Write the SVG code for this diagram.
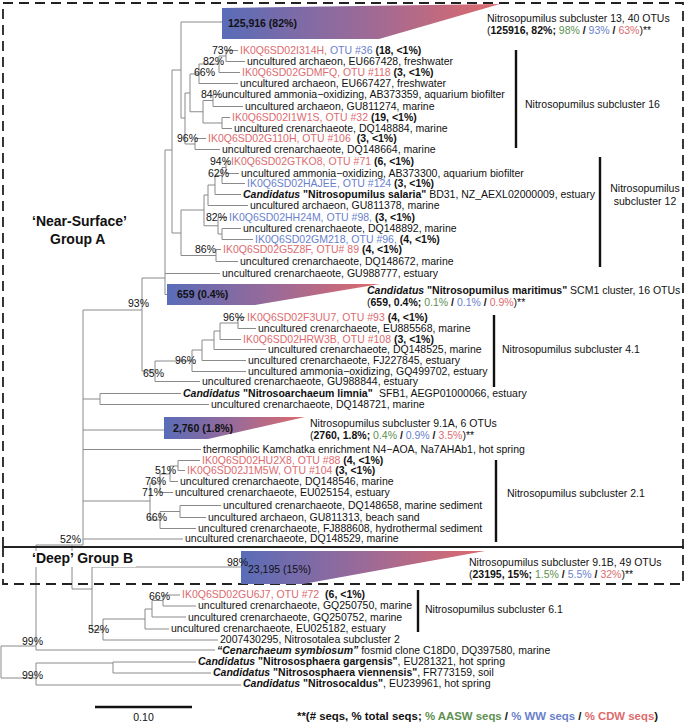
<svg xmlns="http://www.w3.org/2000/svg" width="685" height="726" viewBox="0 0 685 726">
<style>
text{font-family:"Liberation Sans",Arial,sans-serif;font-size:10.5px;fill:#111}
.b{font-weight:bold}
.bi{font-weight:bold;font-style:italic}
.r{fill:#dc6b6f}
.bl{fill:#6a7fcc}
.g{fill:#5e8f4f}
.grp{font-size:14px;font-weight:bold}
.br{fill:none;stroke:#8a8a8a;stroke-width:1}
.bar{stroke:#111;stroke-width:2.4}
.box{fill:none;stroke:#222;stroke-width:1.8;stroke-dasharray:10 6}
.foot{font-size:11.4px;font-weight:bold}
</style>
<defs>
<linearGradient id="grad" x1="0" y1="0" x2="1" y2="0">
<stop offset="0" stop-color="#5a6cb8"/>
<stop offset="0.5" stop-color="#9a6a98"/>
<stop offset="1" stop-color="#de6a6c"/>
</linearGradient>
</defs>
<rect width="685" height="726" fill="#fff"/>

<g id="connectors">
<path class="br" d="M181,22V118 M181,22H222 M181,118H185 M185,93V144 M185,93H190 M185,144H195 M190,74V111.75 M190,74H199 M190,111.75H203 M199,64V83.5 M199,64H219 M199,83.5H238 M219,56V72.5 M219,56H226 M219,72.5H240 M226,50.5V61.5 M226,50.5H238 M226,61.5H245 M203,100.5V123 M203,100.5H213 M203,123H222 M213,94.5V106.5 M213,94.5H220 M213,106.5H243 M222,117.5V128.5 M222,117.5H230 M222,128.5H232 M195,138.5V149.5 M195,138.5H206 M195,149.5H220"/>
<path class="br" d="M172,70V233 M172,70H181 M172,233H181 M181,210V255.5 M181,210H204 M181,255.5H216 M204,195V225.75 M204,195H208 M204,225.75H218 M208,185V205.5 M208,185H215 M208,205.5H248 M215,175.5V194.5 M215,175.5H222 M215,194.5H241 M222,167.5V183.5 M222,167.5H226 M222,183.5H245 M226,161.5V173.5 M226,161.5H229 M226,173.5H239 M218,217.5V234 M218,217.5H227 M218,234H222 M222,228.5V239.5 M222,228.5H241 M222,239.5H253 M216,249.5V261.5 M216,249.5H221 M216,261.5H238 M165,150V294.5 M165,150H172 M165,273.5H220 M165,294.5H167"/>
<path class="br" d="M142,278V371 M142,278H165 M142,371H155 M155,361V381.5 M155,361H192 M155,381.5H200 M192,350V371.5 M192,350H202 M192,371.5H246 M202,340V360.5 M202,340H214 M202,360.5H246 M214,331V349.5 M214,331H220 M214,349.5H266 M220,323V339.5 M220,323H238 M220,339.5H241 M238,317.5V328.5 M238,317.5H245 M238,328.5H256"/>
<path class="br" d="M83,310V545 M83,310H142 M83,399H100 M100,393.5V404.5 M100,393.5H181 M100,404.5H209 M83,430H164 M83,449.5H201 M83,501H150 M83,539H183"/>
<path class="br" d="M150,483V520 M150,483H160 M150,520H160 M160,474V492.5 M160,474H170 M160,492.5H173 M170,466V481.5 M170,466H178 M170,481.5H178 M178,460.5V470.5 M178,460.5H200 M178,470.5H185 M160,511.5V528.5 M160,511.5H180 M160,528.5H196 M180,505.5V517.5 M180,505.5H221 M180,517.5H206"/>
<path class="br" d="M36,545V650 M36,545H83 M36,650H215 M72,545V589 M72,589H92 M92,567V630 M92,567H241 M92,630H103 M103,619V640 M103,619H145 M103,640H218 M145,609V629 M145,609H152 M145,629H169 M152,600.5V617 M152,600.5H163 M152,617H186 M163,595V606 M163,595H180 M163,606H196 M1,646V678 M1,646H36 M1,678H36 M36,663V685 M36,663H113 M36,685H241 M113,662V673 M113,662H196 M113,673H211"/>
</g>

<g id="boxes">
<rect class="box" x="3" y="3" width="680" height="544"/>
<rect class="box" x="3" y="547" width="680" height="37"/>
<text class="grp" x="32" y="226">‘Near-Surface’</text>
<text class="grp" x="50" y="244">Group A</text>
<rect x="30" y="551" width="106" height="16" fill="#fff"/>
<text class="grp" x="32" y="563">‘Deep’ Group B</text>
</g>

<g id="clade-sub13">
<path d="M222,8L500,4L379,39L222,39Z" fill="url(#grad)"/>
<text class="b" x="228" y="27">125,916 (82%)</text>
<text x="487" y="22">Nitrosopumilus subcluster 13, 40 OTUs</text>
<text x="487" y="34">(<tspan class="b">125916, 82%;</tspan> <tspan class="g">98%</tspan><tspan class="b"> / </tspan><tspan class="bl">93%</tspan><tspan class="b"> / </tspan><tspan class="r">63%</tspan>)**</text>
</g>

<g id="leaves-sub16">
<text x="240" y="54"><tspan class="r">IK0Q6SD02I314H, </tspan><tspan class="bl">OTU #36</tspan><tspan class="b"> (18, &lt;1%)</tspan></text>
<text x="247" y="65">uncultured archaeon, EU667428, freshwater</text>
<text x="242" y="76"><tspan class="r">IK0Q6SD02GDMFQ, OTU #118</tspan><tspan class="b"> (3, &lt;1%)</tspan></text>
<text x="240" y="87">uncultured archaeon, EU667427, freshwater</text>
<text x="222" y="98">uncultured ammonia−oxidizing, AB373359, aquarium biofilter</text>
<text x="245" y="110">uncultured archaeon, GU811274, marine</text>
<text x="232" y="121"><tspan class="r">IK0Q6SD02I1W1S, OTU #32</tspan><tspan class="b"> (19, &lt;1%)</tspan></text>
<text x="234" y="132">uncultured crenarchaeote, DQ148884, marine</text>
<text x="208" y="142"><tspan class="r">IK0Q6SD02G110H, OTU #106</tspan><tspan class="b" dx="3"> (3, &lt;1%)</tspan></text>
<text x="222" y="153">uncultured crenarchaeote, DQ148664, marine</text>
</g>

<g id="leaves-sub12">
<text x="231" y="165"><tspan class="r">IK0Q6SD02GTKO8, OTU #71</tspan><tspan class="b"> (6, &lt;1%)</tspan></text>
<text x="241" y="177">uncultured ammonia−oxidizing, AB373300, aquarium biofilter</text>
<text x="247" y="187"><tspan class="bl">IK0Q6SD02HAJEE, OTU #124</tspan><tspan class="b"> (3, &lt;1%)</tspan></text>
<text x="243" y="198"><tspan class="bi">Candidatus</tspan><tspan class="b"> "Nitrosopumilus salaria"</tspan> BD31, NZ_AEXL02000009, estuary</text>
<text x="250" y="209">uncultured archaeon, GU811378, marine</text>
<text x="229" y="221"><tspan class="bl">IK0Q6SD02HH24M, OTU #98,</tspan><tspan class="b"> (3, &lt;1%)</tspan></text>
<text x="243" y="232">uncultured crenarchaeote, DQ148892, marine</text>
<text x="255" y="243"><tspan class="bl">IK0Q6SD02GM218, OTU #96,</tspan><tspan class="b"> (4, &lt;1%)</tspan></text>
<text x="223" y="253"><tspan class="r">IK0Q6SD02G5Z8F, OTU# 89</tspan><tspan class="b"> (4, &lt;1%)</tspan></text>
<text x="240" y="265">uncultured crenarchaeote, DQ148672, marine</text>
<text x="222" y="277">uncultured crenarchaeote, GU988777, estuary</text>
</g>

<g id="clade-maritimus">
<path d="M167,284L380,284L255,305L167,305Z" fill="url(#grad)"/>
<text class="b" x="177" y="298">659 (0.4%)</text>
<text x="367" y="294"><tspan class="bi">Candidatus</tspan><tspan class="b"> "Nitrosopumilus maritimus"</tspan> SCM1 cluster, 16 OTUs</text>
<text x="367" y="306">(<tspan class="b">659, 0.4%;</tspan> <tspan class="g">0.1%</tspan><tspan class="b"> / </tspan><tspan class="bl">0.1%</tspan><tspan class="b"> / </tspan><tspan class="r">0.9%</tspan>)**</text>
</g>

<g id="leaves-sub41">
<text x="247" y="321"><tspan class="r">IK0Q6SD02F3UU7, OTU #93</tspan><tspan class="b"> (4, &lt;1%)</tspan></text>
<text x="258" y="332">uncultured crenarchaeote, EU885568, marine</text>
<text x="243" y="343"><tspan class="r">IK0Q6SD02HRW3B, OTU #108</tspan><tspan class="b"> (3, &lt;1%)</tspan></text>
<text x="268" y="353">uncultured crenarchaeote, DQ148525, marine</text>
<text x="248" y="364">uncultured crenarchaeote, FJ227845, estuary</text>
<text x="248" y="375">uncultured ammonia−oxidizing, GQ499702, estuary</text>
<text x="202" y="385">uncultured crenarchaeote, GU988844, estuary</text>
</g>

<g id="leaves-mid">
<text x="183" y="397"><tspan class="bi">Candidatus</tspan><tspan class="b"> "Nitrosoarchaeum limnia"</tspan><tspan x="379">SFB1, AEGP01000066, estuary</tspan></text>
<text x="211" y="408">uncultured crenarchaeote, DQ148721, marine</text>
</g>

<g id="clade-sub91A">
<path d="M164,417L305,417L208,439L164,439Z" fill="url(#grad)"/>
<text class="b" x="173" y="432">2,760 (1.8%)</text>
<text x="310" y="427">Nitrosopumilus subcluster 9.1A, 6 OTUs</text>
<text x="310" y="439">(<tspan class="b">2760, 1.8%;</tspan> <tspan class="g">0.4%</tspan><tspan class="b"> / </tspan><tspan class="bl">0.9%</tspan><tspan class="b"> / </tspan><tspan class="r">3.5%</tspan>)**</text>
</g>

<g id="leaves-sub21">
<text x="203" y="453">thermophilic Kamchatka enrichment N4−AOA, Na7AHAb1, hot spring</text>
<text x="202" y="464"><tspan class="r">IK0Q6SD02HU2X8, OTU #88</tspan><tspan class="b"> (4, &lt;1%)</tspan></text>
<text x="187" y="474"><tspan class="r">IK0Q6SD02J1M5W, OTU #104</tspan><tspan class="b"> (3, &lt;1%)</tspan></text>
<text x="180" y="485">uncultured crenarchaeote, DQ148546, marine</text>
<text x="175" y="496">uncultured crenarchaeote, EU025154, estuary</text>
<text x="223" y="509">uncultured crenarchaeote, DQ148658, marine sediment</text>
<text x="208" y="521">uncultured archaeon, GU811313, beach sand</text>
<text x="198" y="532">uncultured crenarchaeote, FJ888608, hydrothermal sediment</text>
<text x="185" y="542">uncultured crenarchaeote, DQ148529, marine</text>
</g>

<g id="clade-sub91B">
<path d="M241,551L485,551L303,584L241,584Z" fill="url(#grad)"/>
<text x="248" y="573">23,195 (15%)</text>
<text x="469" y="566">Nitrosopumilus subcluster 9.1B, 49 OTUs</text>
<text x="469" y="578">(<tspan class="b">23195, 15%;</tspan> <tspan class="g">1.5%</tspan><tspan class="b"> / </tspan><tspan class="bl">5.5%</tspan><tspan class="b"> / </tspan><tspan class="r">32%</tspan>)**</text>
</g>

<g id="leaves-sub61">
<text x="182" y="598"><tspan class="r">IK0Q6SD02GU6J7, OTU #72</tspan><tspan class="b" dx="3"> (6, &lt;1%)</tspan></text>
<text x="198" y="609">uncultured crenarchaeote, GQ250750, marine</text>
<text x="188" y="621">uncultured crenarchaeote, GQ250752, marine</text>
<text x="171" y="632">uncultured crenarchaeote, EU025182, estuary</text>
<text x="220" y="643">2007430295, Nitrosotalea subcluster 2</text>
</g>

<g id="leaves-outgroup">
<text x="217" y="654"><tspan class="bi">“Cenarchaeum symbiosum”</tspan> fosmid clone C18D0, DQ397580, marine</text>
<text x="198" y="665"><tspan class="bi">Candidatus</tspan><tspan class="b"> "Nitrososphaera gargensis"</tspan>, EU281321, hot spring</text>
<text x="213" y="676"><tspan class="bi">Candidatus</tspan><tspan class="b"> "Nitrososphaera viennensis"</tspan>, FR773159, soil</text>
<text x="243" y="687"><tspan class="bi">Candidatus</tspan><tspan class="b"> "Nitrosocaldus"</tspan>, EU239961, hot spring</text>
</g>

<g id="subcluster-bars">
<path class="bar" d="M516,50V148 M600,157V267 M494,315V387 M496,460V542 M418,590V632"/>
<text x="525" y="108">Nitrosopumilus subcluster 16</text>
<text x="645" y="192" text-anchor="middle">Nitrosopumilus</text>
<text x="645" y="205" text-anchor="middle">subcluster 12</text>
<text x="502" y="353">Nitrosopumilus subcluster 4.1</text>
<text x="507" y="497">Nitrosopumilus subcluster 2.1</text>
<text x="425" y="613">Nitrosopumilus subcluster 6.1</text>
</g>

<g id="support">
<text x="212" y="54">73%</text>
<text x="203" y="65">82%</text>
<text x="194" y="76">66%</text>
<text x="201" y="98">84%</text>
<text x="177" y="142">96%</text>
<text x="210" y="165">94%</text>
<text x="208" y="177">62%</text>
<text x="206" y="221">82%</text>
<text x="195" y="253">86%</text>
<text x="128" y="307">93%</text>
<text x="223" y="321">96%</text>
<text x="175" y="364">96%</text>
<text x="143" y="377">65%</text>
<text x="155" y="474">51%</text>
<text x="145" y="485">76%</text>
<text x="142" y="496">71%</text>
<text x="146" y="521">66%</text>
<text x="60" y="543">52%</text>
<text x="227" y="566">98%</text>
<text x="149" y="600">66%</text>
<text x="88" y="633">52%</text>
<text x="22" y="645">99%</text>
<text x="22" y="679">99%</text>
</g>

<g id="scale">
<path d="M95,707H192" stroke="#111" stroke-width="2.5"/>
<text x="143.5" y="721" text-anchor="middle">0.10</text>
</g>

<g id="legend">
<text class="foot" x="297" y="720">**(# seqs, % total seqs; <tspan class="g">% AASW seqs</tspan> / <tspan class="bl">% WW seqs</tspan> / <tspan class="r">% CDW seqs</tspan>)</text>
</g>
</svg>
